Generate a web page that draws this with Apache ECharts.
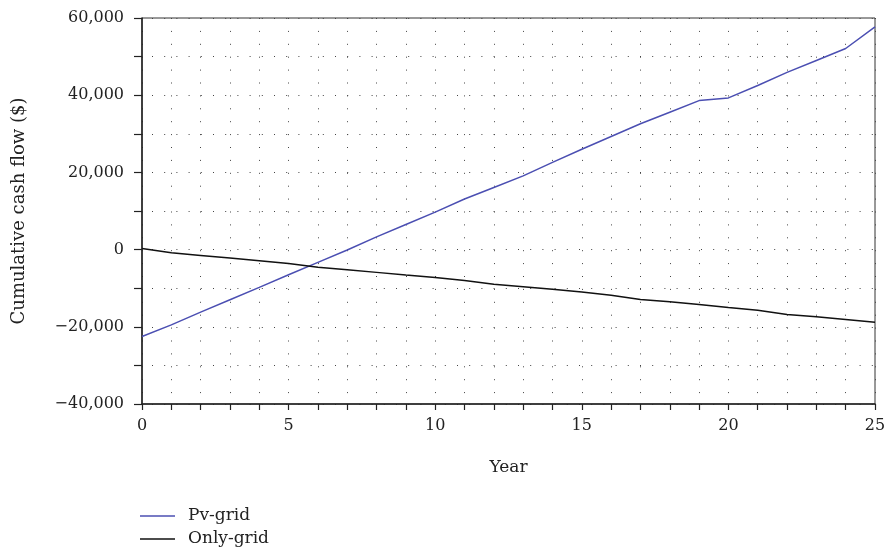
<!DOCTYPE html>
<html>
<head>
<meta charset="utf-8">
<script src="https://cdn.jsdelivr.net/npm/echarts@6/dist/echarts.min.js"></script>
<style>html,body{margin:0;padding:0;background:#fff}#c{width:885px;height:551px}</style>
</head>
<body>
<div id="c"></div>
<script>
var years = [0,1,2,3,4,5,6,7,8,9,10,11,12,13,14,15,16,17,18,19,20,21,22,23,24,25];
var pvGrid = [-22500,-19500,-16200,-13000,-9800,-6500,-3300,-100,3300,6500,9700,13100,16100,19100,22600,26000,29300,32600,35600,38600,39300,42500,45900,49000,52100,57700];
var onlyGrid = [300,-800,-1500,-2200,-2900,-3600,-4600,-5200,-5900,-6600,-7200,-8000,-9000,-9600,-10300,-11000,-11800,-12900,-13500,-14200,-15000,-15700,-16800,-17400,-18100,-18800];
var seriesNames = ['Pv-grid','Only-grid'];
var xTitle = 'Year';
var yTitle = 'Cumulative cash flow ($)';

var FONT = 'DejaVu Serif';
function fmtY(v){
  if (v % 20000 !== 0) return '';
  var s = Math.abs(v).toString().replace(/\B(?=(\d{3})+(?!\d))/g, ',');
  return (v < 0 ? '\u2212' : '') + s;
}
function pairs(arr){ return years.map(function(y,i){ return [y, arr[i]]; }); }
var chart = echarts.init(document.getElementById('c'), null, {renderer:'canvas'});
chart.setOption({
  animation:false,
  backgroundColor:'#fff',
  grid:{left:142,right:10,top:18,bottom:147,show:true,borderColor:'#333',borderWidth:1,
    containLabel:false,outerBoundsMode:'none'},
  legend:{
    data:seriesNames, orient:'vertical', left:140, top:507, height:80, padding:0,
    icon:'rect', itemWidth:35, itemHeight:1.5, itemGap:5,
    textStyle:{fontFamily:FONT,fontSize:17,color:'#222',lineHeight:18,padding:[0,0,0,8]}
  },
  xAxis:{
    type:'value', min:0, max:25, interval:1,
    name:xTitle, nameLocation:'middle', nameGap:55,
    nameTextStyle:{fontFamily:FONT,fontSize:17,color:'#222'},
    axisLine:{show:true,onZero:false,lineStyle:{color:'#222',width:1.5}},
    axisTick:{show:true,inside:false,length:6,lineStyle:{color:'#222',width:1.2}},
    axisLabel:{fontFamily:FONT,fontSize:16,color:'#222',margin:14,
      formatter:function(v){ return v % 5 === 0 ? String(v) : ''; }},
    splitLine:{show:true,lineStyle:{color:'#444',width:1,type:[1,11.9],dashOffset:0}}
  },
  yAxis:{
    type:'value', min:-40000, max:60000, interval:10000,
    name:yTitle, nameLocation:'middle', nameGap:114, nameRotate:90,
    nameTextStyle:{fontFamily:FONT,fontSize:18,color:'#222'},
    axisLine:{show:true,onZero:false,lineStyle:{color:'#222',width:1.5}},
    axisTick:{show:true,inside:false,length:8,lineStyle:{color:'#222',width:1.2}},
    axisLabel:{fontFamily:FONT,fontSize:16,color:'#222',margin:18,formatter:fmtY},
    splitLine:{show:true,lineStyle:{color:'#444',width:1,type:[1,11.2],dashOffset:-10}}
  },
  series:[
    {name:seriesNames[0],type:'line',data:pairs(pvGrid),showSymbol:false,symbol:'none',
      lineStyle:{color:'#4b4fb2',width:1.5},itemStyle:{color:'#4b4fb2'}},
    {name:seriesNames[1],type:'line',data:pairs(onlyGrid),showSymbol:false,symbol:'none',
      lineStyle:{color:'#111',width:1.5},itemStyle:{color:'#111'}}
  ]
});
</script>
</body>
</html>
